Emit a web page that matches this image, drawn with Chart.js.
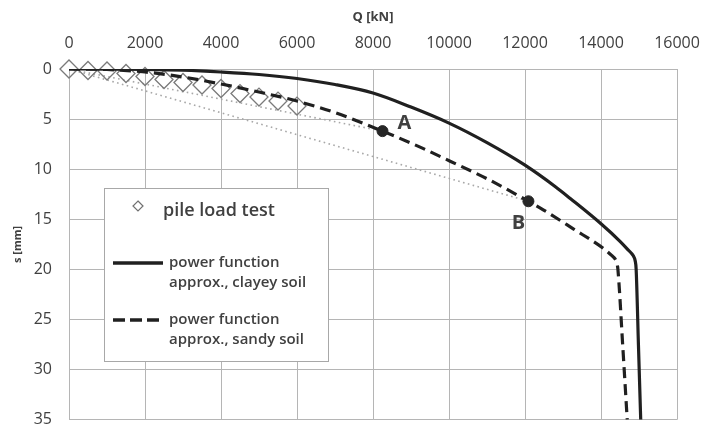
<!DOCTYPE html>
<html>
<head>
<meta charset="utf-8">
<script src="https://cdn.jsdelivr.net/npm/chart.js@4.4.1/dist/chart.umd.min.js"></script>
<style>
  html, body { margin: 0; padding: 0; background: #fff; overflow: hidden; }
  #pileChart { display: block; }
</style>
</head>
<body>
<canvas id="pileChart" width="709" height="430"></canvas>
<script>
// pile load test readings, Q [kN] and s [mm]
const testLoads = [0, 500, 1000, 1500, 2000, 2500, 3000, 3500, 4000, 4500, 5000, 5500, 6000];
const testSettlements = [0, 0.15, 0.2, 0.45, 0.75, 1.05, 1.35, 1.6, 1.95, 2.45, 2.8, 3.2, 3.7];

// power function approximation, clayey soil
const clayLoads = [0, 1000, 2000, 3000, 4000, 5000, 6000, 7000, 8000, 9000, 10000, 11000, 12000, 12800, 13200, 14000, 14500, 14700, 14850, 14900, 14925, 14985, 15045];
const claySettlements = [0, 0.01, 0.04, 0.12, 0.3, 0.55, 0.95, 1.55, 2.4, 3.8, 5.4, 7.35, 9.6, 11.75, 12.95, 15.45, 17.2, 18.0, 18.65, 19.15, 20.0, 27.5, 35];

// power function approximation, sandy soil
const sandLoads = [0, 1000, 2000, 3000, 4000, 5000, 6000, 7000, 8250, 9240, 10030, 11000, 12090, 12480, 13270, 14060, 14280, 14370, 14420, 14445, 14570, 14690];
const sandSettlements = [0, 0.05, 0.3, 0.8, 1.5, 2.3, 3.2, 4.35, 6.2, 7.8, 9.2, 10.95, 13.2, 14.05, 15.95, 17.9, 18.6, 18.95, 19.4, 20.0, 27.5, 35];

// marked points on the sandy curve
const markNames = ['A', 'B'];
const markLoads = [8250, 12090];
const markSettlements = [6.2, 13.2];

const loadTicks = [0, 2000, 4000, 6000, 8000, 10000, 12000, 14000, 16000];
const settlementTicks = [0, 5, 10, 15, 20, 25, 30, 35];

const legendLabels = [
    ['pile load test'],
    ['power function', 'approx., clayey soil'],
    ['power function', 'approx., sandy soil']
];

function toPoints(xs, ys) {
    return xs.map((x, i) => ({ x: x, y: ys[i] }));
}

const textColor = '#404040';
const gridColor = '#b5b5b5';
const lineColor = '#202020';
const fontFamily = '"Open Sans", sans-serif';

// fixed axis boxes, no extra room for overhanging tick labels
function fixBox(scale, size) {
    if (scale.isHorizontal()) {
        scale.height = size;
    } else {
        scale.width = size;
    }
    scale.paddingLeft = 0;
    scale.paddingRight = 0;
    scale.paddingTop = 0;
    scale.paddingBottom = 0;
}

const chartDecor = {
    id: 'chartDecor',
    afterDatasetsDraw(chart) {
        const ctx = chart.ctx;
        const xs = chart.scales.x;
        const ys = chart.scales.y;
        ctx.save();

        // point labels A, B
        ctx.font = 'bold 20px ' + fontFamily;
        ctx.fillStyle = textColor;
        ctx.textAlign = 'center';
        ctx.textBaseline = 'middle';
        const offsets = [[22, -8], [-10, 22]];
        markNames.forEach((name, i) => {
            const px = xs.getPixelForValue(markLoads[i]);
            const py = ys.getPixelForValue(markSettlements[i]);
            ctx.fillText(name, px + offsets[i][0], py + offsets[i][1]);
        });

        // legend box
        const bx = 104, by = 188, bw = 224, bh = 173;
        ctx.fillStyle = '#fff';
        ctx.fillRect(bx, by, bw, bh);
        ctx.strokeStyle = '#a8a8a8';
        ctx.lineWidth = 1;
        ctx.strokeRect(bx + 0.5, by + 0.5, bw, bh);

        // diamond marker
        ctx.strokeStyle = '#707070';
        ctx.lineWidth = 1.2;
        ctx.beginPath();
        ctx.moveTo(138, 201);
        ctx.lineTo(143, 206);
        ctx.lineTo(138, 211);
        ctx.lineTo(133, 206);
        ctx.closePath();
        ctx.stroke();

        ctx.fillStyle = textColor;
        ctx.textAlign = 'left';
        ctx.font = '600 18px ' + fontFamily;
        ctx.fillText(legendLabels[0][0], 163, 211);

        // solid sample
        ctx.strokeStyle = lineColor;
        ctx.lineWidth = 3.5;
        ctx.beginPath();
        ctx.moveTo(113, 263);
        ctx.lineTo(163, 263);
        ctx.stroke();

        // dashed sample
        ctx.setLineDash([12, 5]);
        ctx.beginPath();
        ctx.moveTo(113, 320);
        ctx.lineTo(160, 320);
        ctx.stroke();
        ctx.setLineDash([]);

        ctx.font = '600 15px ' + fontFamily;
        ctx.fillText(legendLabels[1][0], 169, 263);
        ctx.fillText(legendLabels[1][1], 169, 283);
        ctx.fillText(legendLabels[2][0], 169, 320);
        ctx.fillText(legendLabels[2][1], 169, 340);

        ctx.restore();
    }
};

const ctx = document.getElementById('pileChart').getContext('2d');
new Chart(ctx, {
    type: 'scatter',
    data: {
        datasets: [
            {
                label: 'A, B',
                data: toPoints(markLoads, markSettlements),
                pointRadius: 5.5,
                pointBackgroundColor: '#262626',
                pointBorderColor: '#262626',
                showLine: false
            },
            {
                label: 'power function approx., clayey soil',
                data: toPoints(clayLoads, claySettlements),
                showLine: true,
                borderColor: lineColor,
                borderWidth: 3.2,
                pointRadius: 0,
                cubicInterpolationMode: 'monotone'
            },
            {
                label: 'power function approx., sandy soil',
                data: toPoints(sandLoads, sandSettlements),
                showLine: true,
                borderColor: lineColor,
                borderWidth: 3.2,
                borderDash: [11, 6],
                pointRadius: 0,
                cubicInterpolationMode: 'monotone'
            },
            {
                label: 'pile load test',
                data: toPoints(testLoads, testSettlements),
                pointStyle: 'rectRot',
                pointRadius: 9,
                pointBorderColor: '#7a7a7a',
                pointBackgroundColor: 'rgba(0,0,0,0)',
                pointBorderWidth: 1.3,
                showLine: false,
                clip: false
            },
            {
                label: 'secant A',
                data: [{ x: 0, y: 0 }, { x: markLoads[0], y: markSettlements[0] }],
                showLine: true,
                borderColor: '#a8a8a8',
                borderWidth: 1.6,
                borderDash: [1.6, 3.4],
                pointRadius: 0
            },
            {
                label: 'secant B',
                data: [{ x: 0, y: 0 }, { x: markLoads[1], y: markSettlements[1] }],
                showLine: true,
                borderColor: '#a8a8a8',
                borderWidth: 1.6,
                borderDash: [1.6, 3.4],
                pointRadius: 0
            }
        ]
    },
    options: {
        responsive: false,
        animation: false,
        events: [],
        layout: {
            padding: { left: 0, top: 0, right: 32, bottom: 8 }
        },
        plugins: {
            legend: { display: false },
            tooltip: { enabled: false }
        },
        scales: {
            x: {
                type: 'linear',
                position: 'top',
                min: 0,
                max: 16000,
                afterBuildTicks: scale => {
                    scale.ticks = loadTicks.map(v => ({ value: v }));
                },
                afterFit: scale => fixBox(scale, 69),
                ticks: {
                    color: textColor,
                    font: { family: fontFamily, size: 16 },
                    padding: 16,
                    maxRotation: 0,
                    callback: v => String(v)
                },
                grid: { color: gridColor, drawTicks: false },
                border: { color: gridColor },
                title: {
                    display: true,
                    text: 'Q [kN]',
                    color: textColor,
                    font: { family: fontFamily, size: 13, weight: 'bold' },
                    padding: { top: 9, bottom: 0 }
                }
            },
            y: {
                type: 'linear',
                reverse: true,
                min: 0,
                max: 35,
                afterBuildTicks: scale => {
                    scale.ticks = settlementTicks.map(v => ({ value: v }));
                },
                afterFit: scale => fixBox(scale, 69),
                ticks: {
                    color: textColor,
                    font: { family: fontFamily, size: 16 },
                    padding: 17
                },
                grid: { color: gridColor, drawTicks: false },
                border: { color: gridColor },
                title: {
                    display: true,
                    text: 's [mm]',
                    color: textColor,
                    font: { family: fontFamily, size: 11, weight: 'bold' },
                    padding: { top: 11, bottom: 0 }
                }
            }
        }
    },
    plugins: [chartDecor]
});
</script>
</body>
</html>
